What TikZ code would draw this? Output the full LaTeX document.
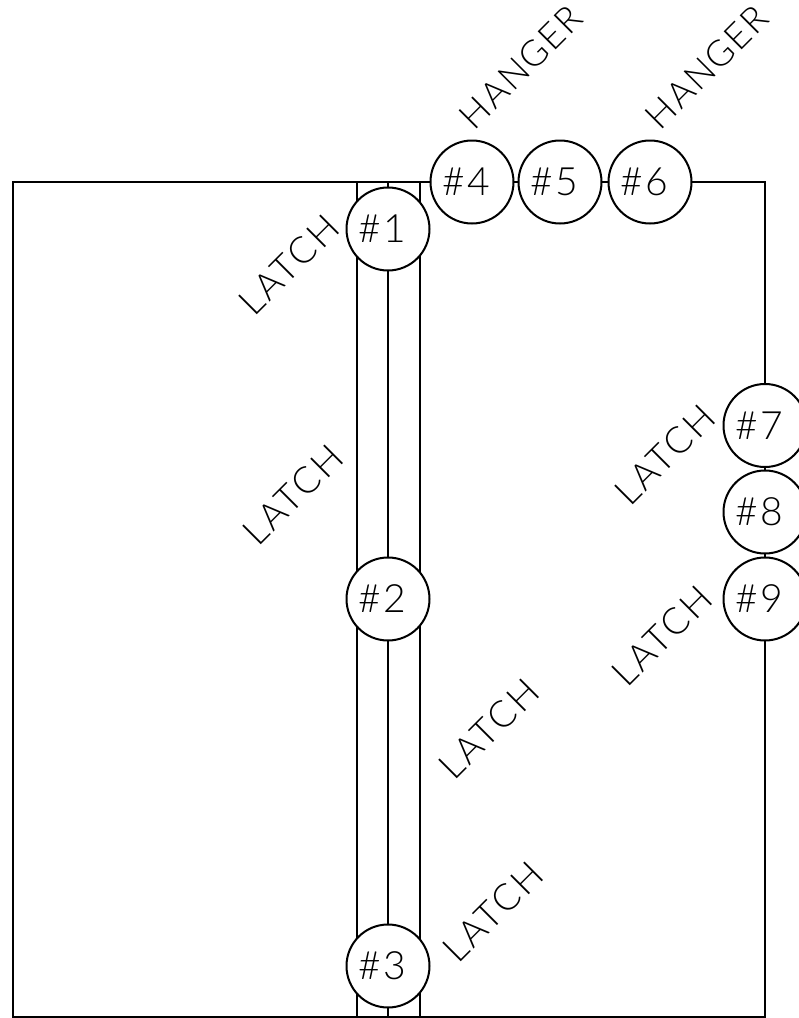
\documentclass[tikz,border=0pt]{standalone}
\usepackage{fontspec}
\setmainfont{Lato}[UprightFont=* Light]
\newfontface\cadfont{Lato Light}[LetterSpace=7]
\newfontface\cadfontn{Lato Light}[LetterSpace=5]
\begin{document}
\begin{tikzpicture}[x=1pt,y=-1pt,
  wire/.style={line width=2pt,black},
  hole/.style={circle,draw=black,line width=2pt,fill=white,minimum size=83pt,inner sep=0pt,outer sep=0pt,text width=60pt,align=left,font=\fontsize{39}{39}\cadfont},
  tag/.style={rotate=45,inner sep=0pt,font=\fontsize{37}{37}\cadfont},
  hangtag/.style={rotate=45,inner sep=0pt,font=\fontsize{36}{36}\cadfontn}]
\clip (0,0) rectangle (799,1018);
\fill[white] (0,0) rectangle (799,1018);
\coordinate (tl) at (13,182);
\coordinate (tr) at (765,182);
\coordinate (br) at (765,1017);
\coordinate (bl) at (13,1017);
\coordinate (ta) at (357,182);
\coordinate (ba) at (357,1017);
\coordinate (tb) at (388,182);
\coordinate (bb) at (388,1017);
\coordinate (tc) at (420,182);
\coordinate (bc) at (420,1017);
\draw[wire] (ta) -- (ba);
\draw[wire] (tc) -- (bc);
\node[hole] (n1) at (388,229) {\#1};
\node[hole] (n2) at (388,599) {\#2};
\node[hole] (n3) at (388,966) {\#3};
\node[hole] (n4) at (472,182) {\#4};
\node[hole] (n5) at (560,182) {\#5};
\node[hole] (n6) at (650,182) {\#6};
\node[hole] (n7) at (765,425.5) {\#7};
\node[hole] (n8) at (765,512) {\#8};
\node[hole] (n9) at (765,599) {\#9};
\draw[wire] (n4.west) -- (tl) -- (bl) -- (br) -- (n9.south);
\draw[wire] (n6.east) -- (tr) -- (n7.north);
\draw[wire] (n4) -- (n5);
\draw[wire] (n5) -- (n6);
\draw[wire] (n7) -- (n8);
\draw[wire] (n8) -- (n9);
\draw[wire] (tb) -- (n1);
\draw[wire] (n1) -- (n2);
\draw[wire] (n2) -- (n3);
\draw[wire] (n3) -- (bb);
\node[tag] (l1) at (289,265) {LATCH};
\node[tag] (l2) at (293,495) {LATCH};
\node[tag] (l3) at (489,729) {LATCH};
\node[tag] (l4) at (493,912) {LATCH};
\node[tag] (l7) at (665,455) {LATCH};
\node[tag] (l9) at (662,636) {LATCH};
\node[hangtag] (h1) at (521,67) {HANGER};
\node[hangtag] (h2) at (707,67) {HANGER};
\end{tikzpicture}
\end{document}
